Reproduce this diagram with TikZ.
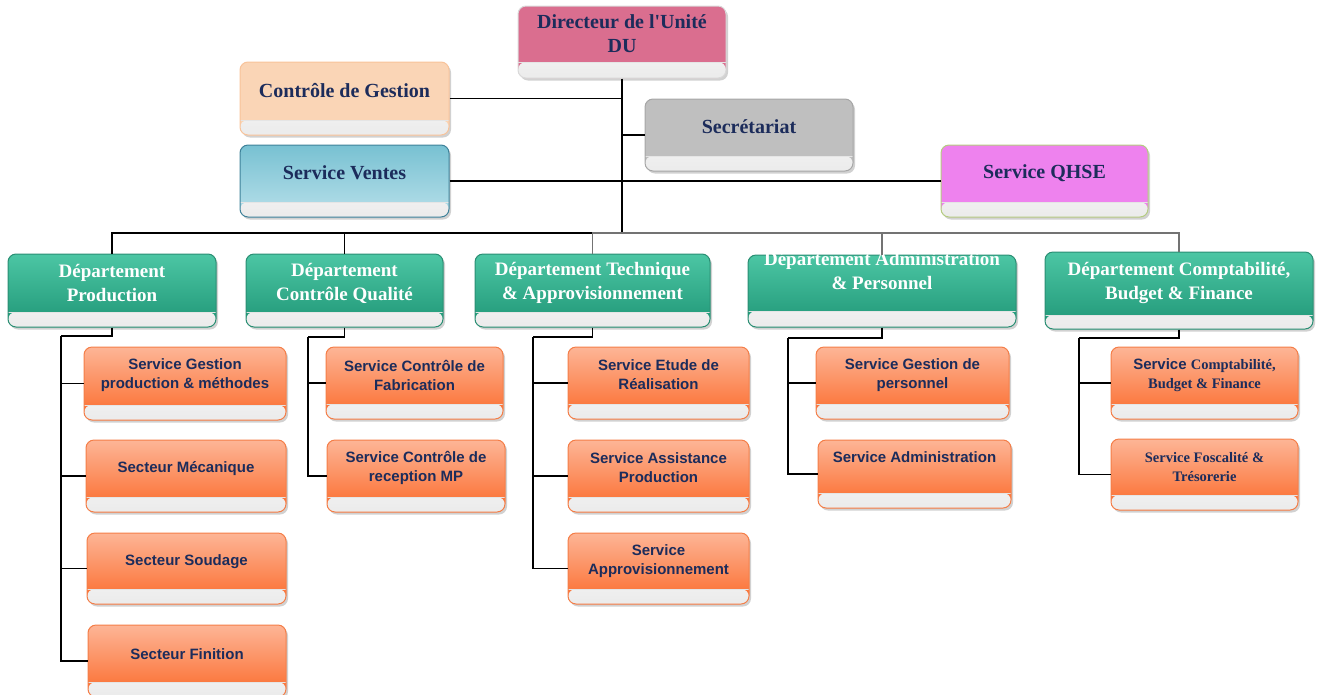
\documentclass[tikz,border=0pt]{standalone}
\usepackage{fontspec}
\setmainfont{Liberation Serif}
\setsansfont{Liberation Sans}
\usetikzlibrary{shadows}

\definecolor{navy}{HTML}{1C2C5B}
\definecolor{dirpink}{HTML}{DA6E8F}
\definecolor{cgfill}{HTML}{FAD5B6}
\definecolor{cgline}{HTML}{F8C39A}
\definecolor{ventestop}{HTML}{78C1D2}
\definecolor{ventesbot}{HTML}{B8E0EA}
\definecolor{ventesline}{HTML}{3E8199}
\definecolor{secrfill}{HTML}{BFBFBF}
\definecolor{secrline}{HTML}{A6A6A6}
\definecolor{qhsefill}{HTML}{EE82EE}
\definecolor{qhseline}{HTML}{B4CC80}
\definecolor{depttop}{HTML}{4CC6A4}
\definecolor{deptbot}{HTML}{1F9676}
\definecolor{deptline}{HTML}{2A8E73}
\definecolor{servtop}{HTML}{FDB596}
\definecolor{servbot}{HTML}{FB6A2A}
\definecolor{servline}{HTML}{F47E48}
\definecolor{bandlow}{HTML}{EBEBEB}

\tikzset{
  orgbox/.style={rectangle, rounded corners=8pt, line width=1pt, inner sep=0pt,
    drop shadow={shadow xshift=2pt, shadow yshift=-2.5pt, fill=black, opacity=0.18},
    path picture={
      \shade[top color=white, bottom color=bandlow]
        ([yshift=#1]path picture bounding box.south west) rectangle (path picture bounding box.south east);
      \draw[line width=0.5pt, black!10]
        ([yshift=#1]path picture bounding box.south west) -- ([yshift=#1]path picture bounding box.south east);
    }},
  orgbox/.default=15pt,
  dirbox/.style={orgbox=16pt, fill=dirpink, draw=white!85!black},
  cgbox/.style={orgbox, fill=cgfill, draw=cgline},
  ventesbox/.style={orgbox, top color=ventestop, bottom color=ventesbot, draw=ventesline},
  secrbox/.style={orgbox, fill=secrfill, draw=secrline},
  qhsebox/.style={orgbox, fill=qhsefill, draw=qhseline},
  deptbox/.style={orgbox=#1, top color=depttop, bottom color=deptbot, draw=deptline},
  deptbox/.default=15pt,
  servbox/.style={orgbox=#1, top color=servtop, bottom color=servbot, draw=servline},
  servbox/.default=15pt,
  toptext/.style={align=center, text=navy, inner sep=0pt,
    font=\fontsize{20}{24}\selectfont\bfseries},
  depttext/.style={align=center, text=white, inner sep=0pt,
    font=\fontsize{19}{24}\selectfont\bfseries},
  servtext/.style={align=center, text=navy, inner sep=0pt,
    font=\fontsize{15}{19}\selectfont\sffamily\bfseries},
  link/.style={line width=1.2pt, black},
  greylink/.style={line width=1.2pt, black!55},
}
\newcommand\serifpart{\fontsize{14.5}{19}\selectfont\rmfamily\bfseries}

% box: name, style, centre x, centre y, width, height
\newcommand\orgnode[6]{\node[#2, minimum width=#5pt, minimum height=#6pt] (#1) at (#3,#4) {};}

\begin{document}
\begin{tikzpicture}[x=1pt, y=-1pt]
\useasboundingbox (0,0) rectangle (1322,694);

% ---- top level
\orgnode{dir}{dirbox}{622}{42}{208}{72}
\orgnode{cg}{cgbox}{344.5}{98.5}{209}{73}
\orgnode{ventes}{ventesbox}{344.5}{181}{209}{72}
\orgnode{secr}{secrbox}{749}{135}{208}{72}
\orgnode{qhse}{qhsebox}{1044.5}{181}{207}{72}

% ---- departments
\orgnode{dprod}{deptbox}{112}{290.5}{208}{73}
\orgnode{dqual}{deptbox}{344.5}{290.5}{197}{73}
\orgnode{dtech}{deptbox}{592.5}{290.5}{235}{73}
\orgnode{dadm}{deptbox=16pt}{882}{291}{268}{72}
\orgnode{dcomp}{deptbox=14pt}{1179}{290.5}{268}{77}

% ---- services
\orgnode{sgp}{servbox}{185}{383.5}{202}{73}
\orgnode{smec}{servbox}{186}{476}{200}{72}
\orgnode{ssou}{servbox}{186.5}{568.5}{199}{71}
\orgnode{sfin}{servbox}{187}{661}{198}{72}
\orgnode{scf}{servbox}{414.5}{383}{177}{72}
\orgnode{scr}{servbox}{416}{476}{178}{72}
\orgnode{ser}{servbox}{658.5}{383}{181}{72}
\orgnode{sas}{servbox}{658.5}{476}{181}{72}
\orgnode{sappro}{servbox}{658.5}{568.5}{181}{71}
\orgnode{sgpers}{servbox}{912.5}{383}{193}{72}
\orgnode{sadm}{servbox}{914.5}{474}{193}{68}
\orgnode{scbf}{servbox}{1204.5}{383}{187}{72}
\orgnode{sft}{servbox}{1204.5}{474.5}{187}{71}

% ---- texts
\node[toptext] (dir-t) at (622,34) {Directeur de l\textquotesingle Unité\\DU};
\node[toptext] (cg-t) at (344.5,90.5) {Contrôle de Gestion};
\node[toptext] (ventes-t) at (344.5,173) {Service Ventes};
\node[toptext] (secr-t) at (749,127) {Secrétariat};
\node[toptext] (qhse-t) at (1044.5,173) {Service QHSE};

\node[depttext] (dprod-t) at (112,283) {Département\\Production};
\node[depttext] (dqual-t) at (344.5,283) {Département\\Contrôle Qualité};
\node[depttext] (dtech-t) at (592.5,283) {Département Technique\\\& Approvisionnement};
\node[depttext] (dadm-t) at (882,271) {Département Administration\\\& Personnel};
\node[depttext] (dcomp-t) at (1179,283) {Département Comptabilité,\\Budget \& Finance};

\node[servtext] (sgp-t) at (185,375) {Service Gestion\\production \& méthodes};
\node[servtext] (smec-t) at (186,469) {Secteur Mécanique};
\node[servtext] (ssou-t) at (186.5,562) {Secteur Soudage};
\node[servtext] (sfin-t) at (187,654) {Secteur Finition};
\node[servtext] (scf-t) at (414.5,375) {Service Contrôle de\\Fabrication};
\node[servtext] (scr-t) at (416,468) {Service Contrôle de\\reception MP};
\node[servtext] (ser-t) at (658.5,375) {Service Etude de\\Réalisation};
\node[servtext] (sas-t) at (658.5,468) {Service Assistance\\Production};
\node[servtext] (sappro-t) at (658.5,561) {Service\\Approvisionnement};
\node[servtext] (sgpers-t) at (912.5,375) {Service Gestion de\\personnel};
\node[servtext] (sadm-t) at (914.5,457) {Service Administration};
\node[servtext] (scbf-t) at (1204.5,375.5) {Service {\serifpart Comptabilité,}\\{\serifpart Budget \& Finance}};
\node[servtext, font=\serifpart] (sft-t) at (1204.5,467) {Service Foscalité \&\\Trésorerie};

% ---- connectors from the director
\coordinate (bus) at (622,233);
\draw[link] (dir.south) -- (bus);
\draw[link] (cg.east) -- (cg.east -| dir.south);
\draw[link] (secr.west) -- (secr.west -| dir.south);
\draw[link] (ventes.east) -- (qhse.west);
\draw[link] (bus) -| (dprod.north);
\draw[link] (bus) -| (dqual.north);
\draw[greylink] (bus) -| (dtech.north);
\draw[greylink] (bus) -| (dadm.north);
\draw[greylink] (bus) -| (dcomp.north);

% ---- department sub-trees
\coordinate (prodT) at (61,336);
\draw[link] (dprod.south) |- (prodT);
\foreach \s in {sgp,smec,ssou,sfin} \draw[link] (prodT) |- (\s.west);

\coordinate (qualT) at (308,337);
\draw[link] (dqual.south) |- (qualT);
\foreach \s in {scf,scr} \draw[link] (qualT) |- (\s.west);

\coordinate (techT) at (533,337);
\draw[link] (dtech.south) |- (techT);
\foreach \s in {ser,sas,sappro} \draw[link] (techT) |- (\s.west);

\coordinate (admT) at (788,338);
\draw[link] (dadm.south) |- (admT);
\foreach \s in {sgpers,sadm} \draw[link] (admT) |- (\s.west);

\coordinate (compT) at (1079,338);
\draw[link] (dcomp.south) |- (compT);
\foreach \s in {scbf,sft} \draw[link] (compT) |- (\s.west);

\end{tikzpicture}
\end{document}
